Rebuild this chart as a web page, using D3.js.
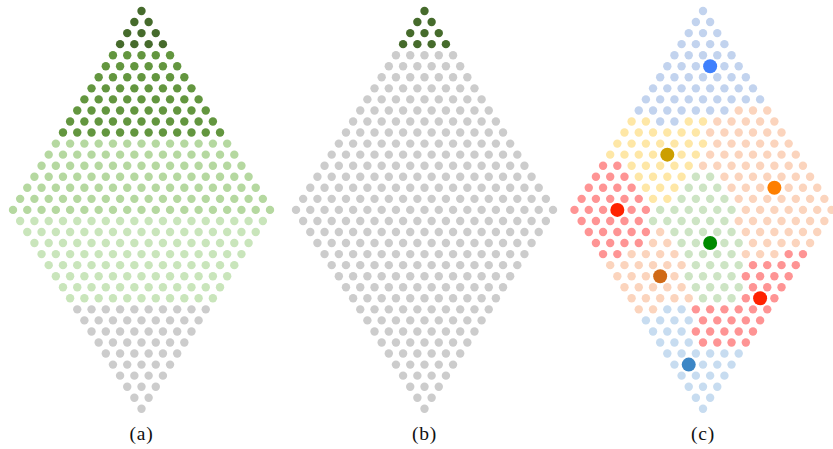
<!DOCTYPE html>
<html>
<head>
<meta charset="utf-8">
<script src="https://cdn.jsdelivr.net/npm/d3@7"></script>
<style>
  html, body { margin: 0; padding: 0; background: #fff; }
  svg { display: block; }
</style>
</head>
<body>
<svg id="chart" width="833" height="449"></svg>
<script>
// ---------------- DATA ----------------
const panelLabels = ["(a)", "(b)", "(c)"];

// Panel (a): one class letter per row (37 rows, top to bottom)
const rowsA = "DDDDMMMMMMMMLLLLLLLKKKKKKKKGGGGGGGGGG".split("");
// Panel (b): one class letter per row
const rowsB = "DDDDGGGGGGGGGGGGGGGGGGGGGGGGGGGGGGGGG".split("");
// Panel (c): one class letter per dot, row by row
const rowsC = [
  "B", "BB", "BBB", "BBBB", "BBBBB", "BBBBBB", "BBBBBBB", "BBBBBBBB", "BBBBBBBBB",
  "BBBBBBBPPP",
  "YYBBYYPPPPP",
  "YYYYYYPPPPPP",
  "YYYYYYYPPPPPP",
  "YYYYYYYPPPPPPP",
  "RRYYYYYPPPPPPPP",
  "RRRYYYYGGPPPPPPP",
  "RRRRYYYGGGPPPPPPP",
  "RRRRRYYGGGGPPPPPPP",
  "RRRRRRGGGGGGPPPPPPP",
  "RRRRRGGGGGGPPPPPPP",
  "RRRRRPGGGGGPPPPPP",
  "RRRRPPGGGGGPPPPP",
  "RRPPPPGGGGPPPRR",
  "PPPPPPGGGGRRRR",
  "PPPPPGGGGRRRR",
  "PPPPPGGGGRRR",
  "PPPPPGGGRRR",
  "PPSSRRRRRR",
  "SSSSRRRRR",
  "SSSRRRRR",
  "SSSRRRR",
  "SSSSSS",
  "SSSSS", "SSSS", "SSS", "SS", "S"
];
// Panel (c): highlighted centre points (row index, position in row, colour key)
const centerRow = [5, 13, 16, 18, 21, 24, 26, 32];
const centerPos = [3, 4, 13, 3, 8, 3, 9, 1];
const centerKey = ["blue", "gold", "orange", "red", "green", "brown", "red", "steel"];

// ---------------- STYLE ----------------
const dotColor = {
  D: "#466b2c", M: "#63963f", L: "#b5d8a0", K: "#c9e5bb", G: "#cccccc",
  B: "#c2d3ee", Y: "#fee7a6", P: "#fbd4bd", R: "#fe9494", S: "#c7dcf0",
  Gc: "#cde4c4"
};
const centerColor = {
  blue: "#3f80fd", gold: "#cc9f00", orange: "#fe7f00", red: "#ff2200",
  green: "#008a00", brown: "#d06a17", steel: "#3c86c5"
};

// ---------------- LAYOUT ----------------
const W = 833, H = 449;
const nMid = 19, nRows = 37;
const panelCenter = d3.scaleOrdinal().domain(panelLabels).range([141.5, 424.5, 703]);
const halfWidth = 128.5;
const y = d3.scaleLinear().domain([0, nRows - 1]).range([11, 408.8]);
const rSmall = 4.2, rBig = 7;

const svg = d3.select("#chart");

function rowCount(r) { return r < nMid ? r + 1 : nRows - r; }

function buildDots(label, classOf) {
  const cx = panelCenter(label);
  const x = d3.scaleLinear().domain([-(nMid - 1) / 2, (nMid - 1) / 2]).range([cx - halfWidth, cx + halfWidth]);
  const dots = [];
  for (let r = 0; r < nRows; r++) {
    const n = rowCount(r);
    for (let k = 0; k < n; k++) {
      dots.push({ r, k, x: x(k - (n - 1) / 2), y: y(r), c: classOf(r, k) });
    }
  }
  return { dots, x };
}

const panels = [
  { label: "(a)", classOf: (r) => rowsA[r] },
  { label: "(b)", classOf: (r) => rowsB[r] },
  { label: "(c)", classOf: (r, k) => { const c = rowsC[r][k]; return c === "G" ? "Gc" : c; } }
];

panels.forEach(p => {
  const { dots, x } = buildDots(p.label, p.classOf);
  const g = svg.append("g");
  g.selectAll("circle.dot").data(dots).join("circle")
    .attr("class", "dot")
    .attr("cx", d => d.x).attr("cy", d => d.y)
    .attr("r", rSmall)
    .attr("fill", d => dotColor[d.c]);

  if (p.label === "(c)") {
    const centers = centerRow.map((r, i) => {
      const n = rowCount(r);
      return { x: x(centerPos[i] - (n - 1) / 2), y: y(r), key: centerKey[i] };
    });
    g.selectAll("circle.center").data(centers).join("circle")
      .attr("class", "center")
      .attr("cx", d => d.x).attr("cy", d => d.y)
      .attr("r", rBig)
      .attr("fill", d => centerColor[d.key]);
  }

  g.append("text")
    .attr("x", panelCenter(p.label))
    .attr("y", 439.5)
    .attr("text-anchor", "middle")
    .attr("font-family", "'Liberation Serif', 'DejaVu Serif', serif")
    .attr("font-size", 19.5)
    .attr("letter-spacing", 0.8)
    .attr("fill", "#111")
    .text(p.label);
});
</script>
</body>
</html>
